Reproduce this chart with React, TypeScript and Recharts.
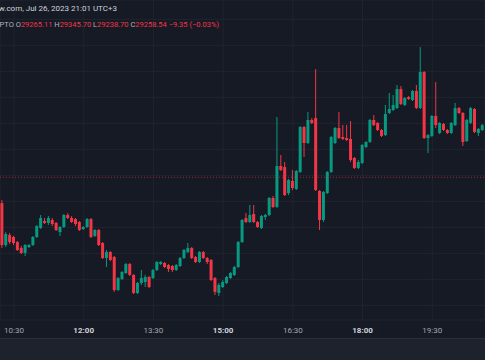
import React from 'react';
import { ComposedChart, Bar, XAxis, YAxis, CartesianGrid, ReferenceLine } from 'recharts';

// BTC 5 minute candles, Jul 26 2023 (UTC+3), first bar at 10:15
const firstBarMinute = 10 * 60 + 15;
const barMinutes = 5;

const opens = [
  29238.7, 29206.4, 29214.1, 29212.6, 29208.7, 29204.1, 29200.3, 29204.9, 29206.4, 29212.6,
  29219.5, 29224.9, 29223.4, 29225.7, 29223.4, 29216.4, 29220.3, 29229.5, 29227.2, 29226.4,
  29224.1, 29218.7, 29220.3, 29226.4, 29213.4, 29218.0, 29208.0, 29196.4, 29201.0, 29197.2,
  29171.8, 29180.3, 29184.9, 29191.8, 29183.4, 29169.5, 29177.2, 29178.0, 29181.8, 29181.0,
  29187.2, 29191.8, 29192.6, 29191.0, 29190.3, 29187.2, 29190.3, 29196.4, 29201.0, 29204.1,
  29197.2, 29193.4, 29201.0, 29196.4, 29194.9, 29181.0, 29169.5, 29174.1, 29177.2, 29181.0,
  29183.4, 29189.5, 29208.7, 29227.2, 29224.1, 29230.3, 29224.1, 29219.5, 29228.0, 29229.5,
  29242.6, 29235.7, 29267.2, 29266.4, 29246.4, 29255.7, 29249.5, 29262.6, 29297.2, 29284.9,
  29302.6, 29304.1, 29248.0, 29225.7, 29246.4, 29262.6, 29284.9, 29296.4, 29289.5, 29288.7,
  29288.0, 29273.4, 29265.7, 29269.5, 29281.8, 29285.7, 29302.6, 29300.3, 29294.9, 29291.0,
  29308.0, 29310.3, 29311.8, 29326.4, 29314.1, 29320.3, 29318.0, 29324.9, 29311.8, 29339.5,
  29288.7, 29290.3, 29305.7, 29292.6, 29299.5, 29294.9, 29292.6, 29298.7, 29311.8, 29308.0,
  29286.4, 29300.3, 29311.0, 29292.6, 29294.9,
];

const highs = [
  29241.0, 29216.4, 29215.7, 29213.4, 29209.5, 29205.7, 29207.2, 29207.2, 29213.4, 29221.8,
  29229.5, 29227.2, 29228.7, 29227.2, 29224.1, 29221.0, 29230.3, 29231.0, 29228.7, 29227.2,
  29224.9, 29221.0, 29227.2, 29227.2, 29218.7, 29218.7, 29208.7, 29202.6, 29201.8, 29198.0,
  29181.8, 29186.4, 29192.6, 29192.6, 29184.1, 29178.0, 29187.2, 29183.4, 29182.6, 29188.0,
  29194.1, 29194.1, 29193.4, 29191.8, 29191.0, 29191.8, 29197.2, 29203.4, 29208.0, 29204.9,
  29198.0, 29201.8, 29201.8, 29197.2, 29195.7, 29181.8, 29177.2, 29179.5, 29182.6, 29185.7,
  29190.3, 29209.5, 29226.4, 29231.0, 29237.2, 29237.2, 29224.9, 29229.5, 29230.3, 29243.4,
  29244.1, 29304.9, 29275.7, 29270.3, 29257.2, 29264.1, 29264.1, 29298.0, 29298.0, 29308.7,
  29304.1, 29341.8, 29248.7, 29248.0, 29263.4, 29290.3, 29297.2, 29308.7, 29298.7, 29298.7,
  29301.8, 29274.1, 29271.8, 29284.1, 29286.4, 29303.4, 29306.4, 29301.0, 29295.7, 29314.1,
  29323.4, 29321.8, 29329.5, 29328.7, 29320.3, 29321.0, 29325.7, 29329.5, 29358.7, 29340.3,
  29291.8, 29306.4, 29331.8, 29301.0, 29300.3, 29295.7, 29301.0, 29315.7, 29312.6, 29308.7,
  29303.4, 29312.6, 29311.8, 29296.4, 29299.5,
];

const lows = [
  29204.1, 29204.9, 29207.2, 29206.4, 29201.8, 29199.5, 29198.0, 29204.1, 29205.7, 29211.8,
  29218.7, 29222.6, 29221.8, 29221.0, 29217.2, 29213.4, 29219.5, 29226.4, 29223.4, 29221.0,
  29217.2, 29218.0, 29219.5, 29211.8, 29212.6, 29205.7, 29195.7, 29189.5, 29194.1, 29170.3,
  29171.0, 29179.5, 29184.1, 29182.6, 29168.7, 29168.7, 29175.7, 29174.1, 29173.4, 29180.3,
  29186.4, 29191.0, 29188.7, 29185.7, 29185.7, 29186.4, 29189.5, 29195.7, 29200.3, 29195.7,
  29192.6, 29192.6, 29195.7, 29191.8, 29178.7, 29168.0, 29167.2, 29173.4, 29176.4, 29180.3,
  29182.6, 29188.7, 29208.0, 29223.4, 29223.4, 29223.4, 29219.5, 29218.7, 29225.7, 29228.7,
  29234.9, 29234.9, 29263.4, 29244.1, 29244.9, 29248.7, 29248.7, 29261.8, 29274.1, 29284.1,
  29299.5, 29248.0, 29218.0, 29224.1, 29245.7, 29261.8, 29284.1, 29288.0, 29287.2, 29286.4,
  29270.3, 29264.9, 29264.9, 29268.7, 29281.0, 29284.9, 29298.0, 29294.1, 29289.5, 29290.3,
  29307.2, 29309.5, 29311.0, 29314.1, 29313.4, 29318.0, 29317.2, 29311.0, 29311.0, 29288.0,
  29277.2, 29289.5, 29296.4, 29291.8, 29294.1, 29291.8, 29291.8, 29298.0, 29307.2, 29282.6,
  29285.7, 29299.5, 29292.6, 29290.3, 29294.1,
];

const closes = [
  29206.4, 29214.9, 29208.7, 29208.0, 29202.6, 29200.3, 29206.4, 29206.4, 29212.6, 29221.0,
  29227.2, 29223.4, 29227.2, 29222.6, 29218.0, 29220.3, 29229.5, 29227.2, 29224.1, 29222.6,
  29218.0, 29220.3, 29226.4, 29212.6, 29218.0, 29206.4, 29196.4, 29201.0, 29194.9, 29171.8,
  29181.0, 29185.7, 29191.8, 29183.4, 29169.5, 29177.2, 29181.0, 29181.8, 29174.1, 29187.2,
  29193.4, 29193.4, 29189.5, 29188.0, 29187.2, 29191.0, 29196.4, 29202.6, 29204.1, 29196.4,
  29193.4, 29201.0, 29196.4, 29193.4, 29179.5, 29170.3, 29175.7, 29178.0, 29181.8, 29184.9,
  29189.5, 29208.7, 29225.7, 29224.1, 29229.5, 29224.1, 29220.3, 29228.7, 29229.5, 29242.6,
  29235.7, 29267.2, 29264.1, 29244.9, 29256.4, 29250.3, 29263.4, 29297.2, 29284.9, 29302.6,
  29300.3, 29248.7, 29225.7, 29247.2, 29262.6, 29289.5, 29296.4, 29288.7, 29288.0, 29287.2,
  29271.8, 29265.7, 29270.3, 29283.4, 29285.7, 29302.6, 29298.7, 29294.9, 29290.3, 29307.2,
  29311.0, 29314.1, 29326.4, 29314.9, 29319.5, 29318.7, 29324.9, 29311.8, 29339.5, 29288.7,
  29291.0, 29305.7, 29298.7, 29300.3, 29294.9, 29292.6, 29300.3, 29311.8, 29308.0, 29285.7,
  29302.6, 29311.8, 29293.4, 29295.7, 29298.7,
];

const lastPrice = 29258.54;
const timeTicks = [630, 720, 810, 900, 990, 1080, 1170]; // 10:30 ... 19:30
const priceTicks = [29160, 29180, 29200, 29220, 29240, 29260, 29280, 29300, 29320, 29340, 29360, 29380];

const GREEN = '#089981';
const RED = '#f23645';
const BG = '#161a25';
const GRID = '#20242f';

const data = opens.map((open, i) => ({
  t: firstBarMinute + i * barMinutes,
  open,
  high: highs[i],
  low: lows[i],
  close: closes[i],
}));

const fmtTime = (m: number) => {
  const h = Math.floor(m / 60);
  const mm = m % 60;
  return `${h}:${mm < 10 ? '0' : ''}${mm}`;
};

function Candle(props: any) {
  const { x, y, width, height, payload } = props;
  if (!payload) return null;
  const { open, close, high, low } = payload;
  const color = close >= open ? GREEN : RED;
  const top = Math.min(y, y + height);
  const span = Math.abs(height);
  const px = (v: number) => (high === low ? top : top + ((high - v) / (high - low)) * span);
  const cx = x + width / 2;
  const bodyTop = px(Math.max(open, close));
  const bodyBottom = px(Math.min(open, close));
  return (
    <g>
      <line x1={cx} x2={cx} y1={top} y2={top + span} stroke={color} strokeWidth={1} />
      <rect x={x} y={bodyTop} width={width} height={Math.max(bodyBottom - bodyTop, 1)} fill={color} />
    </g>
  );
}

function TimeTick(props: any) {
  const { x, y, payload } = props;
  const label = fmtTime(payload.value);
  const full = label.endsWith(':00');
  return (
    <text
      x={x}
      y={y}
      dy={13}
      textAnchor="middle"
      fontSize={8}
      fontFamily="Roboto, sans-serif"
      fontWeight={full ? 700 : 400}
      fill={full ? '#d1d4dc' : '#a3a6af'}
    >
      {label}
    </text>
  );
}

const headerFont: React.CSSProperties = {
  position: 'absolute',
  whiteSpace: 'nowrap',
  fontFamily: 'Roboto, sans-serif',
  fontSize: 8,
  lineHeight: '10px',
};

export default function App() {
  return (
    <div style={{ position: 'absolute', left: 0, top: 0, width: 485, height: 360, background: BG, overflow: 'hidden' }}>
      <ComposedChart width={485} height={338} data={data} margin={{ top: 0, right: 0, bottom: 0, left: 0 }}>
        <CartesianGrid stroke={GRID} strokeWidth={1} />
        <XAxis
          dataKey="t"
          type="number"
          domain={[612, 1238]}
          ticks={timeTicks}
          allowDataOverflow
          height={18}
          tickLine={false}
          axisLine={false}
          tickSize={0}
          tickMargin={0}
          tick={<TimeTick />}
        />
        <YAxis hide type="number" domain={[29148.75, 29394.9]} ticks={priceTicks} allowDataOverflow />
        <ReferenceLine y={lastPrice} stroke={RED} strokeOpacity={0.6} strokeDasharray="1 2" />
        <Bar
          dataKey={(d: any) => [d.low, d.high]}
          barSize={3}
          shape={<Candle />}
          isAnimationActive={false}
        />
      </ComposedChart>
      <div style={{ position: 'absolute', left: 0, top: 0, width: 485, height: 40, overflow: 'hidden' }}>
        <div style={{ ...headerFont, right: 368, top: 4, color: '#d1d4dc' }}>
          Published on TradingView.com, Jul 26, 2023 21:01 UTC+3
        </div>
        <div style={{ ...headerFont, fontSize: 7.5, right: 266, top: 20, color: '#b2b5be' }}>
          Bitcoin / U.S. Dollar, 5, CRYPTO{' '}
          O<span style={{ color: RED }}>29265.11</span>{' '}
          H<span style={{ color: RED }}>29345.70</span>{' '}
          L<span style={{ color: RED }}>29238.70</span>{' '}
          C<span style={{ color: RED }}>29258.54</span>{' '}
          <span style={{ color: RED }}>−9.35 (−0.03%)</span>
        </div>
      </div>
      <div style={{ position: 'absolute', left: 0, top: 338, width: 485, height: 22, background: '#1e222d', borderTop: '1px solid #2a2e39' }} />
    </div>
  );
}
